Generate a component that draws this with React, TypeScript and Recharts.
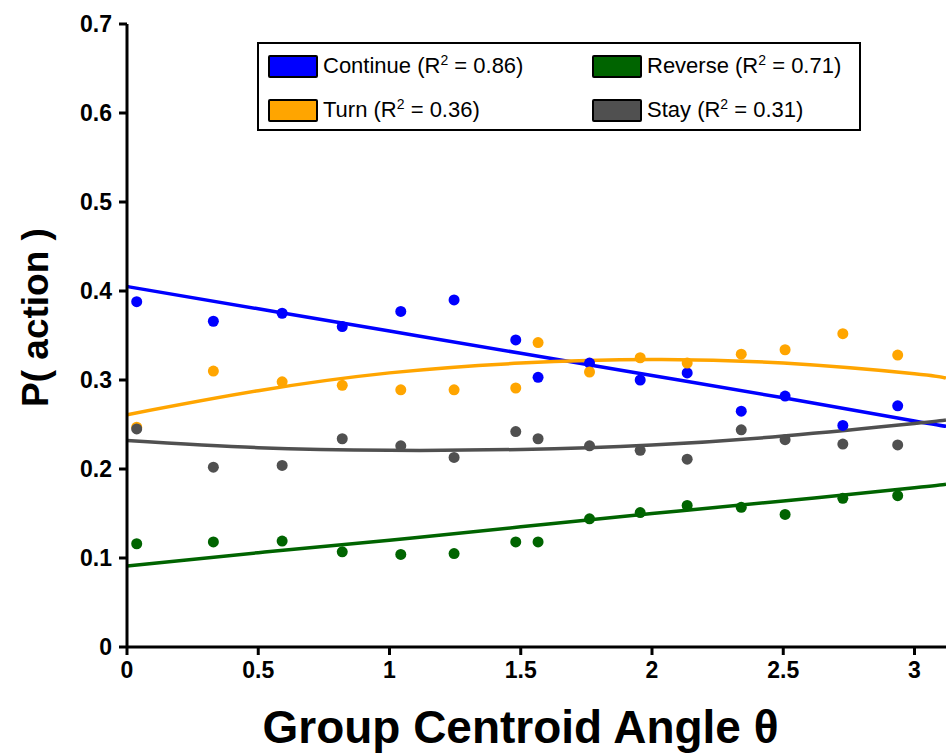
import { ComposedChart, Scatter, Line, XAxis, YAxis } from 'recharts';

// bin centres (radians)
const angles = [0.037, 0.329, 0.591, 0.82, 1.043, 1.246, 1.481, 1.566, 1.762, 1.955, 2.134, 2.34, 2.507, 2.727, 2.936];

const continueP = [0.388, 0.366, 0.375, 0.36, 0.377, 0.39, 0.345, 0.303, 0.319, 0.3, 0.308, 0.265, 0.282, 0.249, 0.271];
const turnP = [0.247, 0.31, 0.298, 0.294, 0.289, 0.289, 0.291, 0.342, 0.309, 0.325, 0.319, 0.329, 0.334, 0.352, 0.328];
const stayP = [0.245, 0.202, 0.204, 0.234, 0.226, 0.213, 0.242, 0.234, 0.226, 0.221, 0.211, 0.244, 0.233, 0.228, 0.227];
const reverseP = [0.116, 0.118, 0.119, 0.107, 0.104, 0.105, 0.118, 0.118, 0.144, 0.151, 0.159, 0.157, 0.149, 0.167, 0.17];

const fitAngles = [0, 0.5, 1, 1.5, 2, 2.5, 3, 3.12];
const continueFit = [0.405, 0.38, 0.355, 0.33, 0.305, 0.28, 0.254, 0.248];
const reverseFit = [0.091, 0.106, 0.12, 0.135, 0.15, 0.164, 0.179, 0.183];
const turnFit = [0.261, 0.288, 0.308, 0.319, 0.323, 0.319, 0.307, 0.302];
const stayFit = [0.232, 0.224, 0.221, 0.222, 0.227, 0.237, 0.251, 0.255];

const xTicks = [0, 0.5, 1, 1.5, 2, 2.5, 3];
const yTicks = [0, 0.1, 0.2, 0.3, 0.4, 0.5, 0.6, 0.7];

const series = [
  { name: 'Continue', r2: '0.86', color: '#0000ff', points: continueP, fit: continueFit },
  { name: 'Reverse', r2: '0.71', color: '#006400', points: reverseP, fit: reverseFit },
  { name: 'Turn', r2: '0.36', color: '#ffa500', points: turnP, fit: turnFit },
  { name: 'Stay', r2: '0.31', color: '#505050', points: stayP, fit: stayFit },
];

const legendOrder = ['Continue', 'Reverse', 'Turn', 'Stay'];

const font = '"Liberation Sans", Arial, sans-serif';

const toPoints = (ys: number[]) => ys.map((y, i) => ({ x: angles[i], y }));
const toFit = (ys: number[]) => ys.map((y, i) => ({ x: fitAngles[i], y }));

const LegendBox = () => (
  <div
    style={{
      position: 'absolute',
      left: 257,
      top: 42,
      border: '2.5px solid #000',
      boxSizing: 'border-box',
      width: 604,
      height: 89,
      background: '#fff',
      display: 'grid',
      gridTemplateColumns: '324px 276px',
      gridTemplateRows: '44px 44px',
      padding: '0 0 0 9px',
      fontFamily: font,
      fontSize: 22,
      color: '#000',
    }}
  >
    {legendOrder.map((n) => {
      const s = series.find((d) => d.name === n)!;
      return (
        <div key={n} style={{ display: 'flex', alignItems: 'center', whiteSpace: 'nowrap' }}>
          <span
            style={{
              display: 'inline-block',
              width: 50,
              height: 23,
              boxSizing: 'border-box',
              background: s.color,
              border: '2.5px solid #000',
              borderRadius: 2,
              marginRight: 5,
            }}
          />
          <span>
            {s.name} (R<sup style={{ fontSize: 14, verticalAlign: 8, lineHeight: 0 }}>2</sup> = {s.r2})
          </span>
        </div>
      );
    })}
  </div>
);

const YLabel = ({ viewBox }: any) => {
  const cx = viewBox.x + 35;
  const cy = viewBox.y + viewBox.height / 2 - 18;
  return (
    <text
      x={cx}
      y={cy}
      transform={`rotate(-90 ${cx} ${cy})`}
      textAnchor="middle"
      dominantBaseline="central"
      fontFamily={font}
      fontWeight="bold"
      fontSize={37}
      fill="#000"
    >
      P( action )
    </text>
  );
};

const XLabel = ({ viewBox }: any) => (
  <text
    x={viewBox.x + viewBox.width / 2 - 16}
    y={viewBox.y + 96}
    textAnchor="middle"
    fontFamily={font}
    fontWeight="bold"
    fontSize={46}
    textLength={516}
    lengthAdjust="spacingAndGlyphs"
    fill="#000"
  >
    Group Centroid Angle θ
  </text>
);

export default function App() {
  return (
    <div style={{ position: 'absolute', left: 0, top: 0, width: 946, height: 756, background: '#fff' }}>
      <ComposedChart width={946} height={756} margin={{ top: 24, right: 0, bottom: 0, left: 0 }}>
        <XAxis
          type="number"
          dataKey="x"
          domain={[0, 3.12]}
          ticks={xTicks}
          allowDataOverflow
          height={109}
          stroke="#000"
          strokeWidth={3}
          tickSize={8}
          tickMargin={7}
          tick={{ fill: '#000', fontFamily: font, fontWeight: 'bold', fontSize: 23 }}
          label={<XLabel />}
        />
        <YAxis
          type="number"
          dataKey="y"
          domain={[0, 0.7]}
          ticks={yTicks}
          width={127}
          stroke="#000"
          strokeWidth={3}
          tickSize={8}
          tickMargin={7}
          tickFormatter={(v: number) => String(Math.round(v * 10) / 10)}
          tick={{ fill: '#000', fontFamily: font, fontWeight: 'bold', fontSize: 23 }}
          label={<YLabel />}
        />
        {series.map((s) => [
          <Scatter
            key={s.name + '-pts'}
            name={s.name}
            data={toPoints(s.points)}
            fill={s.color}
            shape={(p: any) => <circle cx={p.cx} cy={p.cy} r={5.5} fill={s.color} />}
            isAnimationActive={false}
          />,
          <Line
            key={s.name + '-fit'}
            data={toFit(s.fit)}
            dataKey="y"
            type="natural"
            stroke={s.color}
            strokeWidth={3.5}
            dot={false}
            activeDot={false}
            legendType="none"
            isAnimationActive={false}
          />,
        ])}
      </ComposedChart>
      <LegendBox />
    </div>
  );
}
